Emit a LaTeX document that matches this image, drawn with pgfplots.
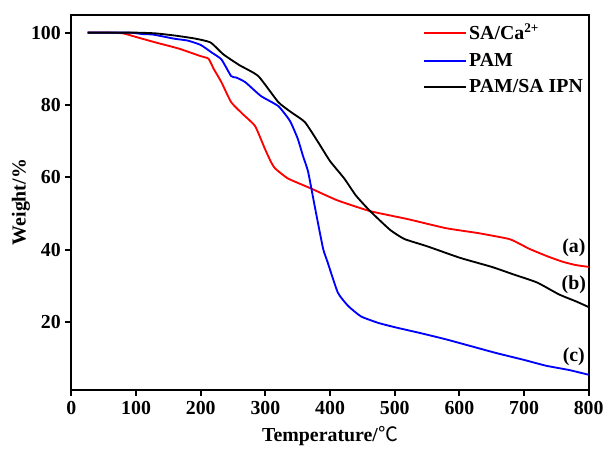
\documentclass[border=0pt]{standalone}
\usepackage{fontspec}
\setmainfont{Liberation Serif}
\newfontfamily\cjk{Noto Sans CJK SC}
\usepackage{pgfplots}
\pgfplotsset{compat=1.18}
\begin{document}
\begin{tikzpicture}
\begin{axis}[
  scale only axis,
  width=391pt, height=283.5pt,
  xmin=0, xmax=800, ymin=1.4, ymax=105,
  xtick={0,100,...,800}, ytick={20,40,60,80,100},
  axis line style={line width=1.5pt},
  tick style={line width=1.5pt, black},
  tick align=outside, tick pos=left,
  major tick length=4.5pt,
  /pgf/number format/assume math mode=true,
  tick label style={font=\fontsize{15}{17}\selectfont\bfseries},
  xticklabel style={yshift=-1pt},
  xlabel={\textbf{Temperature/}{\cjk ℃}},
  ylabel={\textbf{Weight/\%}},
  label style={font=\fontsize{15}{17}\selectfont},
  xlabel style={yshift=-2pt},
  ylabel style={yshift=-6pt},
  legend style={draw=none, fill=none, at={(0.672,0.99)}, anchor=north west,
    font=\fontsize{15}{17}\selectfont\bfseries, row sep=4.5pt},
  legend cell align=left,
  legend image code/.code={\draw[mark repeat=2,mark phase=2,#1] plot coordinates {(0cm,0cm) (0.55cm,0cm) (1.1cm,0cm)};},
]
\addplot[red, line width=1.4pt, smooth, tension=0.3] coordinates {
(25,100)(60,100)(80,99.8)(100,98.8)(130,97.3)(166,95.6)(200,93.5)(212,92.8)(220,90)
(232,86.3)(247,80.8)(265,77.5)(284,74.2)(299,68)(308,64.5)(315,62.5)(335,59.7)(370,57)
(411,53.7)(462,50.7)(520,48.5)(579,46)(630,44.6)(677,43)(695,41.5)(708,40.3)(735,38.3)
(760,36.7)(780,35.8)(800,35.3)};
\addlegendentry{SA/Ca\raisebox{0.8ex}{\fontsize{10}{10}\selectfont 2+}}
\addplot[blue, line width=1.4pt, smooth, tension=0.3] coordinates {
(25,100)(90,100)(110,99.6)(125,99.5)(140,99)(160,98.3)(180,97.8)(200,96.6)(217,94.5)
(232,92.6)(247,88)(255,87.6)(269,86.3)(293,82.5)(320,79.7)(338,75.6)(350,70.7)(358,66)
(366,61.6)(376,52.3)(389,40.5)(396,36.7)(412,28.2)(428,24.5)(448,21.6)(475,19.8)(501,18.6)
(540,17)(579,15.3)(620,13.3)(657,11.5)(700,9.6)(734,8)(770,6.8)(800,5.5)};
\addlegendentry{PAM}
\addplot[black, line width=1.4pt, smooth, tension=0.3] coordinates {
(25,100)(100,100)(130,99.8)(160,99.2)(190,98.4)(215,97.3)(235,94)(260,91)(289,88)
(320,80.8)(340,78)(361,75.3)(381,69.9)(400,64.5)(422,59.7)(440,55)(462,50.7)(493,45.5)
(515,43)(550,41)(601,37.8)(650,35.3)(684,33.2)(720,31)(754,27.7)(780,25.8)(800,24.2)};
\addlegendentry{PAM/SA IPN}
\node[font=\fontsize{15}{17}\selectfont\bfseries] at (axis cs:777,40.5) {(a)};
\node[font=\fontsize{15}{17}\selectfont\bfseries] at (axis cs:777,30.5) {(b)};
\node[font=\fontsize{15}{17}\selectfont\bfseries] at (axis cs:777,10.5) {(c)};
\end{axis}
\path ([xshift=-54pt,yshift=-42pt]current axis.south west) rectangle ([xshift=11pt,yshift=11pt]current axis.north east);
\end{tikzpicture}
\end{document}
